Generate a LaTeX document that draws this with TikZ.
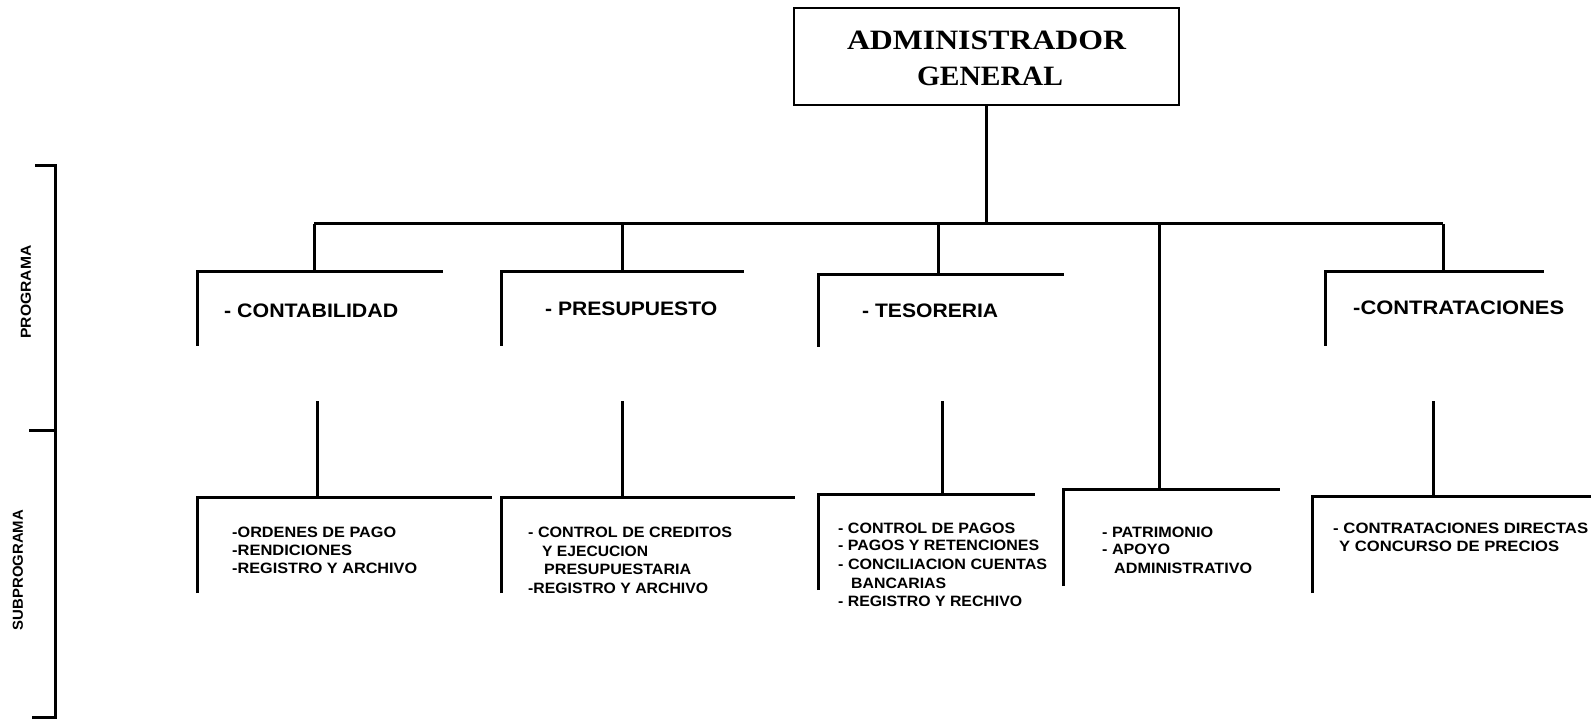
\documentclass[tikz,border=0pt]{standalone}
\usepackage{fontspec}
\setmainfont{Liberation Sans}
\newfontfamily\titlefont{Liberation Serif}
\usepackage{graphicx}
\newcommand{\fw}[2]{\resizebox{#1pt}{\height}{#2}}
\tikzset{
  ln/.style={line width=3pt, line join=miter, line cap=butt},
  boxst/.style={draw, line width=1.8pt, minimum width=385pt, minimum height=97pt, inner sep=0pt},
  ttl/.style={anchor=base, inner sep=0pt, font=\titlefont\bfseries\fontsize{28}{30}\selectfont},
  plbl/.style={anchor=base west, inner sep=0pt, font=\bfseries\fontsize{19.5}{22}\selectfont},
  slbl/.style={anchor=base west, inner sep=0pt, font=\bfseries\fontsize{15}{18}\selectfont},
  side/.style={rotate=90, inner sep=0pt, font=\bfseries\fontsize{14.5}{16}\selectfont}
}
\begin{document}
\begin{tikzpicture}[x=1pt,y=-1pt]
\useasboundingbox (0,0) rectangle (1591,719);
% top box
\node[boxst] (admin) at (986.5,56.5) {};
\node[ttl] (adminA) at (986.5,50) {\fw{279}{ADMINISTRADOR}};
\node[ttl] (adminB) at (990,86) {\fw{146}{GENERAL}};
% bus
\coordinate (busL) at (314,224);
\coordinate (busR) at (1443,224);
\coordinate (busM) at (admin.south |- busL);
\draw[ln] (admin.south) -- (busM);
\draw[ln] (busL) -- (busR);
% program brackets: drop, corner, ends
\coordinate (b1) at (314,224); \coordinate (p1top) at (314,272);
\coordinate (p1c) at (197,272); \coordinate (p1r) at (443,272); \coordinate (p1b) at (197,346);
\coordinate (b2) at (622,224); \coordinate (p2top) at (622,272);
\coordinate (p2c) at (501,272); \coordinate (p2r) at (744,272); \coordinate (p2b) at (501,346);
\coordinate (b3) at (938,224); \coordinate (p3top) at (938,275);
\coordinate (p3c) at (818,275); \coordinate (p3r) at (1064,275); \coordinate (p3b) at (818,347);
\coordinate (b5) at (1443,224); \coordinate (p5top) at (1443,272);
\coordinate (p5c) at (1325,272); \coordinate (p5r) at (1544,272); \coordinate (p5b) at (1325,346);
\draw[ln] (b1) -- (p1top); \draw[ln] (p1b) -- (p1c) -- (p1r);
\draw[ln] (b2) -- (p2top); \draw[ln] (p2b) -- (p2c) -- (p2r);
\draw[ln] (b3) -- (p3top); \draw[ln] (p3b) -- (p3c) -- (p3r);
\draw[ln] (b5) -- (p5top); \draw[ln] (p5b) -- (p5c) -- (p5r);
% program labels
\node[plbl] (pCont) at (224,318) {\fw{174}{- CONTABILIDAD}};
\node[plbl] (pPres) at (545,316) {\fw{172}{- PRESUPUESTO}};
\node[plbl] (pTes) at (862,318) {\fw{136}{- TESORERIA}};
\node[plbl] (pContr) at (1353,315) {\fw{211}{-CONTRATACIONES}};
% subprogram brackets
\coordinate (d1) at (317,401); \coordinate (s1top) at (317,497);
\coordinate (s1c) at (197,497); \coordinate (s1r) at (492,497); \coordinate (s1b) at (197,593);
\coordinate (d2) at (622,401); \coordinate (s2top) at (622,497);
\coordinate (s2c) at (501,497); \coordinate (s2r) at (795,497); \coordinate (s2b) at (501,593);
\coordinate (d3) at (942,401); \coordinate (s3top) at (942,494);
\coordinate (s3c) at (818,494); \coordinate (s3r) at (1035,494); \coordinate (s3b) at (818,590);
\coordinate (b4) at (1159,224); \coordinate (s4top) at (1159,489);
\coordinate (s4c) at (1063,489); \coordinate (s4r) at (1280,489); \coordinate (s4b) at (1063,586);
\coordinate (d5) at (1433,401); \coordinate (s5top) at (1433,496);
\coordinate (s5c) at (1312,496); \coordinate (s5r) at (1591,496); \coordinate (s5b) at (1312,593);
\draw[ln] (d1) -- (s1top); \draw[ln] (s1b) -- (s1c) -- (s1r);
\draw[ln] (d2) -- (s2top); \draw[ln] (s2b) -- (s2c) -- (s2r);
\draw[ln] (d3) -- (s3top); \draw[ln] (s3b) -- (s3c) -- (s3r);
\draw[ln] (b4) -- (s4top); \draw[ln] (s4b) -- (s4c) -- (s4r);
\draw[ln] (d5) -- (s5top); \draw[ln] (s5b) -- (s5c) -- (s5r);
% subprogram texts
\node[slbl] (c1) at (232,537) {\fw{164}{-ORDENES DE PAGO}};
\node[slbl] (c2) at (232,555.3) {\fw{120}{-RENDICIONES}};
\node[slbl] (c3) at (232,573.6) {\fw{185}{-REGISTRO Y ARCHIVO}};
\node[slbl] (r1) at (528,537) {\fw{204}{- CONTROL DE CREDITOS}};
\node[slbl] (r2) at (542,556) {\fw{106}{Y EJECUCION}};
\node[slbl] (r3) at (544,574) {\fw{147}{PRESUPUESTARIA}};
\node[slbl] (r4) at (528,593) {\fw{180}{-REGISTRO Y ARCHIVO}};
\node[slbl] (t1) at (838,533) {\fw{177}{- CONTROL DE PAGOS}};
\node[slbl] (t2) at (838,550) {\fw{201}{- PAGOS Y RETENCIONES}};
\node[slbl] (t3) at (838,569) {\fw{209}{- CONCILIACION CUENTAS}};
\node[slbl] (t4) at (851,588) {\fw{95}{BANCARIAS}};
\node[slbl] (t5) at (838,606) {\fw{184}{- REGISTRO Y RECHIVO}};
\node[slbl] (a1) at (1102,537) {\fw{111}{- PATRIMONIO}};
\node[slbl] (a2) at (1102,554) {\fw{68}{- APOYO}};
\node[slbl] (a3) at (1114,573) {\fw{138}{ADMINISTRATIVO}};
\node[slbl] (k1) at (1333,533) {\fw{255}{- CONTRATACIONES DIRECTAS}};
\node[slbl] (k2) at (1339,551) {\fw{220}{Y CONCURSO DE PRECIOS}};
% left bracket
\coordinate (lt0) at (35,166); \coordinate (lt) at (55,166);
\coordinate (lm0) at (29,430); \coordinate (lm) at (55,430);
\coordinate (lb0) at (32,717); \coordinate (lb) at (55,717);
\draw[ln] (lt0) -- (lt) -- (lb) -- (lb0);
\draw[ln] (lm0) -- (lm);
\node[side] (sProg) at (26,292) {\fw{93}{PROGRAMA}};
\node[side] (sSub) at (18,570) {\fw{120}{SUBPROGRAMA}};
\end{tikzpicture}
\end{document}
